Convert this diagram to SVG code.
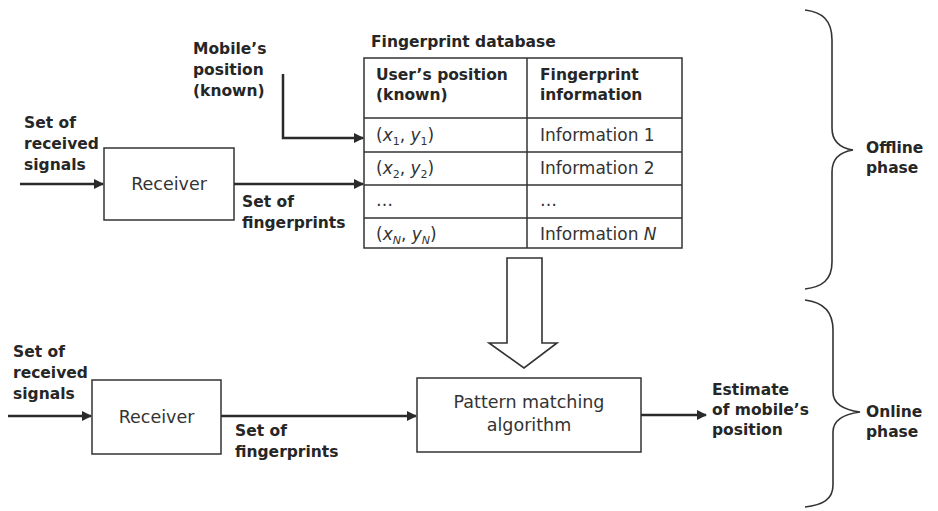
<svg xmlns="http://www.w3.org/2000/svg" width="938" height="511" viewBox="0 0 938 511">
<defs>
<style>
.lbl{font-family:"DejaVu Sans",sans-serif;font-weight:bold;font-size:15.5px;fill:#262626}
.box{fill:#fff;stroke:#333;stroke-width:1.5}
.btxt{font-family:"DejaVu Sans",sans-serif;font-size:17.5px;fill:#333}
.ttxt{font-family:"DejaVu Sans",sans-serif;font-size:17px;fill:#333}
.line{fill:none;stroke:#2a2a2a;stroke-width:2.5}
.tbl{fill:none;stroke:#333;stroke-width:1.5}
.brace{fill:none;stroke:#333;stroke-width:1.6}
</style>
<marker id="ah" viewBox="0 0 10 10" refX="9" refY="5" markerWidth="4" markerHeight="4" orient="auto" markerUnits="strokeWidth">
<path d="M0,0 L10,5 L0,10 z" fill="#2a2a2a"/>
</marker>
</defs>
<rect width="938" height="511" fill="#fff"/>

<g id="labels-top">
<text class="lbl" x="24" y="128">Set of</text>
<text class="lbl" x="24" y="149">received</text>
<text class="lbl" x="24" y="170">signals</text>
<text class="lbl" x="193" y="54">Mobile’s</text>
<text class="lbl" x="193" y="75">position</text>
<text class="lbl" x="193" y="96">(known)</text>
<text class="lbl" x="242" y="207">Set of</text>
<text class="lbl" x="242" y="228">fingerprints</text>
</g>

<g id="receiver-top">
<rect class="box" x="104" y="148" width="130" height="72"/>
<text class="btxt" x="169" y="190" text-anchor="middle">Receiver</text>
</g>

<g id="fingerprint-db">
<text class="lbl" x="371" y="47">Fingerprint database</text>
<rect class="tbl" x="364" y="58" width="318" height="190"/>
<line class="tbl" x1="527" y1="58" x2="527" y2="248"/>
<line class="tbl" x1="364" y1="118" x2="682" y2="118"/>
<line class="tbl" x1="364" y1="152" x2="682" y2="152"/>
<line class="tbl" x1="364" y1="185" x2="682" y2="185"/>
<line class="tbl" x1="364" y1="218" x2="682" y2="218"/>
<text class="lbl" x="376" y="80">User’s position</text>
<text class="lbl" x="376" y="100">(known)</text>
<text class="lbl" x="540" y="80">Fingerprint</text>
<text class="lbl" x="540" y="100">information</text>
<text class="ttxt" x="376" y="141">(<tspan font-style="italic">x</tspan><tspan font-size="11" dy="4">1</tspan><tspan dy="-4">, </tspan><tspan font-style="italic">y</tspan><tspan font-size="11" dy="4">1</tspan><tspan dy="-4">)</tspan></text>
<text class="ttxt" x="376" y="174">(<tspan font-style="italic">x</tspan><tspan font-size="11" dy="4">2</tspan><tspan dy="-4">, </tspan><tspan font-style="italic">y</tspan><tspan font-size="11" dy="4">2</tspan><tspan dy="-4">)</tspan></text>
<text class="ttxt" x="376" y="206">…</text>
<text class="ttxt" x="376" y="240">(<tspan font-style="italic">x</tspan><tspan font-size="11" font-style="italic" dy="4">N</tspan><tspan dy="-4">, </tspan><tspan font-style="italic">y</tspan><tspan font-size="11" font-style="italic" dy="4">N</tspan><tspan dy="-4">)</tspan></text>
<text class="ttxt" x="540" y="141">Information 1</text>
<text class="ttxt" x="540" y="174">Information 2</text>
<text class="ttxt" x="540" y="206">…</text>
<text class="ttxt" x="540" y="240">Information <tspan font-style="italic">N</tspan></text>
</g>

<g id="big-arrow">
<path d="M507,258 L542,258 L542,343 L557,343 L524,368 L489,343 L507,343 Z" fill="#fff" stroke="#333" stroke-width="1.6" stroke-linejoin="miter"/>
</g>

<g id="labels-bottom">
<text class="lbl" x="13" y="357">Set of</text>
<text class="lbl" x="13" y="378">received</text>
<text class="lbl" x="13" y="399">signals</text>
<text class="lbl" x="235" y="436">Set of</text>
<text class="lbl" x="235" y="457">fingerprints</text>
<text class="lbl" x="712" y="395">Estimate</text>
<text class="lbl" x="712" y="415">of mobile’s</text>
<text class="lbl" x="712" y="435">position</text>
</g>

<g id="receiver-bottom">
<rect class="box" x="92" y="380" width="129" height="74"/>
<text class="btxt" x="156.5" y="423" text-anchor="middle">Receiver</text>
</g>

<g id="pattern-matching">
<rect class="box" x="417" y="378" width="224" height="74"/>
<text class="btxt" x="529" y="408" text-anchor="middle">Pattern matching</text>
<text class="btxt" x="529" y="431" text-anchor="middle">algorithm</text>
</g>

<g id="connectors">
<line class="line" x1="20" y1="184" x2="103" y2="184" marker-end="url(#ah)"/>
<line class="line" x1="234" y1="184" x2="363" y2="184" marker-end="url(#ah)"/>
<polyline class="line" points="283,74 283,138 363,138" marker-end="url(#ah)"/>
<line class="line" x1="8" y1="416" x2="91" y2="416" marker-end="url(#ah)"/>
<line class="line" x1="221" y1="416" x2="416" y2="416" marker-end="url(#ah)"/>
<line class="line" x1="641" y1="415" x2="706" y2="415" marker-end="url(#ah)"/>
</g>

<g id="offline-phase">
<path class="brace" d="M805,10 C822,12 832,20 832,40 L832,128 C832,142 840,148 853,150 C840,152 832,158 832,172 L832,262 C832,280 822,287 805,289"/>
<text class="lbl" x="866" y="153">Offline</text>
<text class="lbl" x="866" y="173">phase</text>
</g>

<g id="online-phase">
<path class="brace" d="M805,300 C822,302 833,310 833,330 L833,392 C833,405 845,410 860,412 C845,414 833,420 833,432 L833,485 C833,500 822,505 805,507"/>
<text class="lbl" x="866" y="417">Online</text>
<text class="lbl" x="866" y="437">phase</text>
</g>
</svg>
